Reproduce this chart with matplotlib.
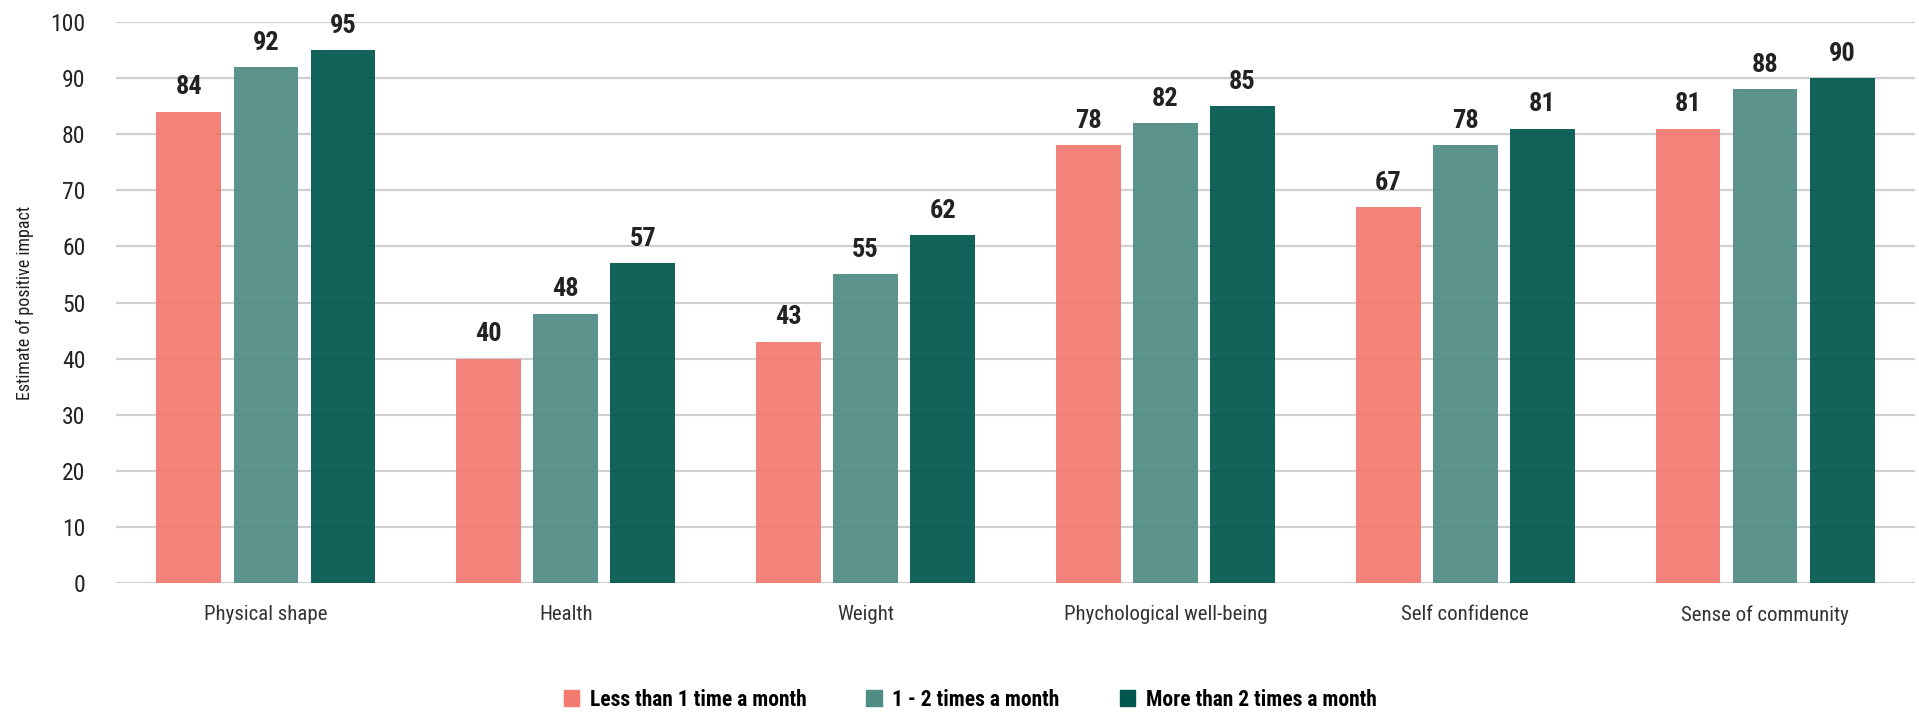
import numpy as np
from matplotlib import pyplot as plt
from matplotlib.patches import Patch

categories = ["Physical shape", "Health", "Weight", "Phychological well-being",
              "Self confidence", "Sense of community"]
less_than_1 = [84, 40, 43, 78, 67, 81]
one_to_two = [92, 48, 55, 82, 78, 88]
more_than_2 = [95, 57, 62, 85, 81, 90]
series_names = ["Less than 1 time a month", "1 - 2 times a month", "More than 2 times a month"]
colors = ["#F37A70", "#4F8C84", "#00574D"]

plt.rcParams['font.family'] = ['Roboto Condensed', 'Roboto', 'DejaVu Sans']

fig = plt.figure(figsize=(19.19, 7.13), dpi=100)
ax = fig.add_axes([116 / 1919, 1 - 583 / 713, (1915 - 116) / 1919, (583 - 22) / 713])

x = np.arange(len(categories))
width = 0.216
offset = 0.257
for i, (vals, color) in enumerate(zip([less_than_1, one_to_two, more_than_2], colors)):
    bars = ax.bar(x + (i - 1) * offset, vals, width, color=color, alpha=0.93, zorder=2)
    for b, v in zip(bars, vals):
        ax.text(b.get_x() + b.get_width() / 2, v + 2.2, str(v), ha="center", va="bottom",
                fontsize=19, fontweight="bold", color="#222222")

ax.set_xlim(-0.5, 5.5)
ax.set_ylim(0, 100)
ax.set_yticks(np.arange(0, 101, 10))
ax.set_xticks(x)
ax.set_xticklabels(categories, fontsize=15, color="#333333")
ax.tick_params(axis="y", labelsize=17, colors="#222222", length=0, pad=22)
ax.tick_params(axis="x", length=0, pad=16)
ax.yaxis.grid(True, color="#d0d0d0", linewidth=1.6, zorder=0)
ax.set_axisbelow(True)
for s in ax.spines.values():
    s.set_visible(False)

ax.set_ylabel("Estimate of positive impact", fontsize=13, color="#222222", labelpad=12)

handles = [Patch(color=c, label=n) for c, n in zip(colors, series_names)]
fig.legend(handles=handles, loc="lower center", bbox_to_anchor=(0.5055, -0.024), ncol=3,
           frameon=False, prop={"size": 15.5, "weight": "bold"}, handlelength=0.7,
           handleheight=0.8, columnspacing=2.8, handletextpad=0.5)

fig.savefig("out.png", dpi=100)
